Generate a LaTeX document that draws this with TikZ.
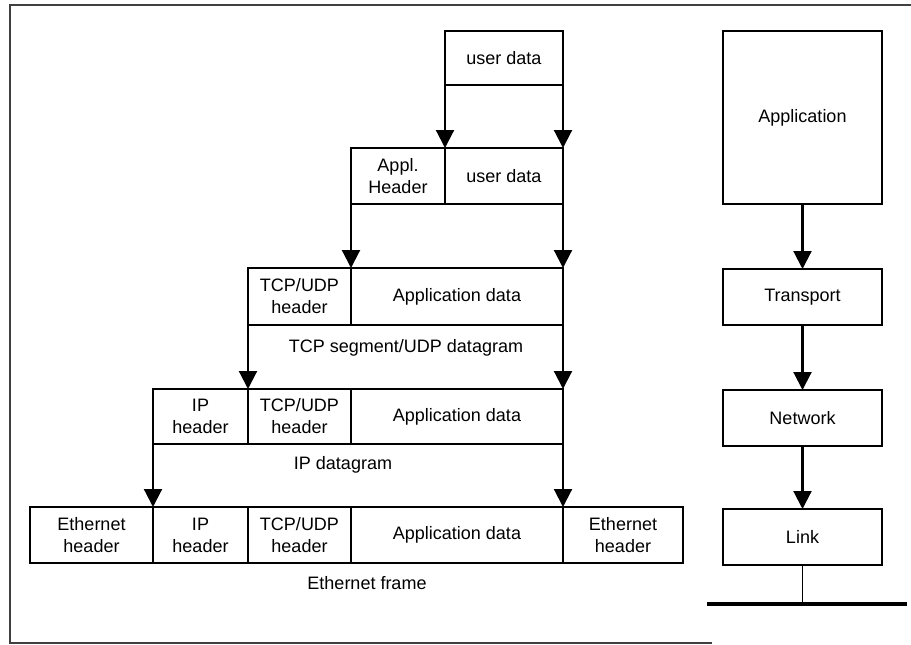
\documentclass[tikz,border=0pt]{standalone}
\usepackage{fontspec}
\setmainfont{Liberation Sans}
\usetikzlibrary{arrows.meta}

% one cell of a packet: name, corners (x1,y1) (x2,y2), text
\newcommand\pktcell[6]{%
  \pgfmathsetmacro\pktw{(#4-#2)*0.75}%
  \pgfmathsetmacro\pkth{(#5-#3)*0.75}%
  \node[cell, minimum width=\pktw pt, minimum height=\pkth pt]
    (#1) at ({(#2+#4)/2},{(#3+#5)/2}) {#6};}

\begin{document}
\begin{tikzpicture}[x=0.75pt,y=-0.75pt,
  every node/.style={font=\fontsize{13.5}{16.5}\selectfont},
  cell/.style={draw, line width=1pt, inner sep=0pt, outer sep=0pt, align=center},
  flow/.style={line width=1.6pt, -{Triangle[width=13.5pt,length=13.5pt]}},
  frame/.style={draw=black!75, line width=1.2pt}]

\useasboundingbox (0,0) rectangle (911,644);

% outer frame
\coordinate (fTR) at (911,5);
\coordinate (fTL) at (10,5);
\coordinate (fBL) at (10,643);
\coordinate (fBR) at (712,643);
\draw[frame] (fTR) -- (fTL) -- (fBL) -- (fBR);

% application message
\pktcell{ud1}{445}{31}{563}{85}{user data}

% application layer
\pktcell{ah2}{351}{148}{445}{204}{Appl.\\Header}
\pktcell{ud2}{445}{148}{563}{204}{user data}

% transport layer
\pktcell{th3}{248}{268}{351}{325}{TCP/UDP\\header}
\pktcell{ad3}{351}{268}{563}{325}{Application data}
\node (seglbl) at (406,347.5) {TCP segment/UDP datagram};

% network layer
\pktcell{ip4}{153}{389}{248}{444}{IP\\header}
\pktcell{th4}{248}{389}{351}{444}{TCP/UDP\\header}
\pktcell{ad4}{351}{389}{563}{444}{Application data}
\node (iplbl) at (343,465) {IP datagram};

% link layer
\pktcell{eh5}{30}{507}{153}{563}{Ethernet\\header}
\pktcell{ip5}{153}{507}{248}{563}{IP\\header}
\pktcell{th5}{248}{507}{351}{563}{TCP/UDP\\header}
\pktcell{ad5}{351}{507}{563}{563}{Application data}
\pktcell{et5}{563}{507}{683}{563}{Ethernet\\header}
\node (ethlbl) at (367,583.5) {Ethernet frame};

% encapsulation arrows
\draw[flow] (ud1.south west) -- (ud2.north west);
\draw[flow] (ud1.south east) -- (ud2.north east);
\draw[flow] (ah2.south west) -- (ad3.north west);
\draw[flow] (ud2.south east) -- (ad3.north east);
\draw[flow] (th3.south west) -- (th4.north west);
\draw[flow] (ad3.south east) -- (ad4.north east);
\draw[flow] (ip4.south west) -- (ip5.north west);
\draw[flow] (ad4.south east) -- (ad5.north east);

% protocol stack
\pktcell{app}{723}{31}{882}{204}{Application}
\pktcell{trans}{723}{269}{882}{325}{Transport}
\pktcell{net}{723}{390}{882}{446}{Network}
\pktcell{link}{723}{509}{882}{565}{Link}

\draw[flow] (app.south) -- (trans.north);
\draw[flow] (trans.south) -- (net.north);
\draw[flow] (net.south) -- (link.north);

% physical medium
\coordinate (busL) at (707,604);
\coordinate (busR) at (907,604);
\draw[line width=3pt] (busL) -- (busR);
\draw[line width=1pt] (link.south) -- (link.south |- busL);

\end{tikzpicture}
\end{document}
